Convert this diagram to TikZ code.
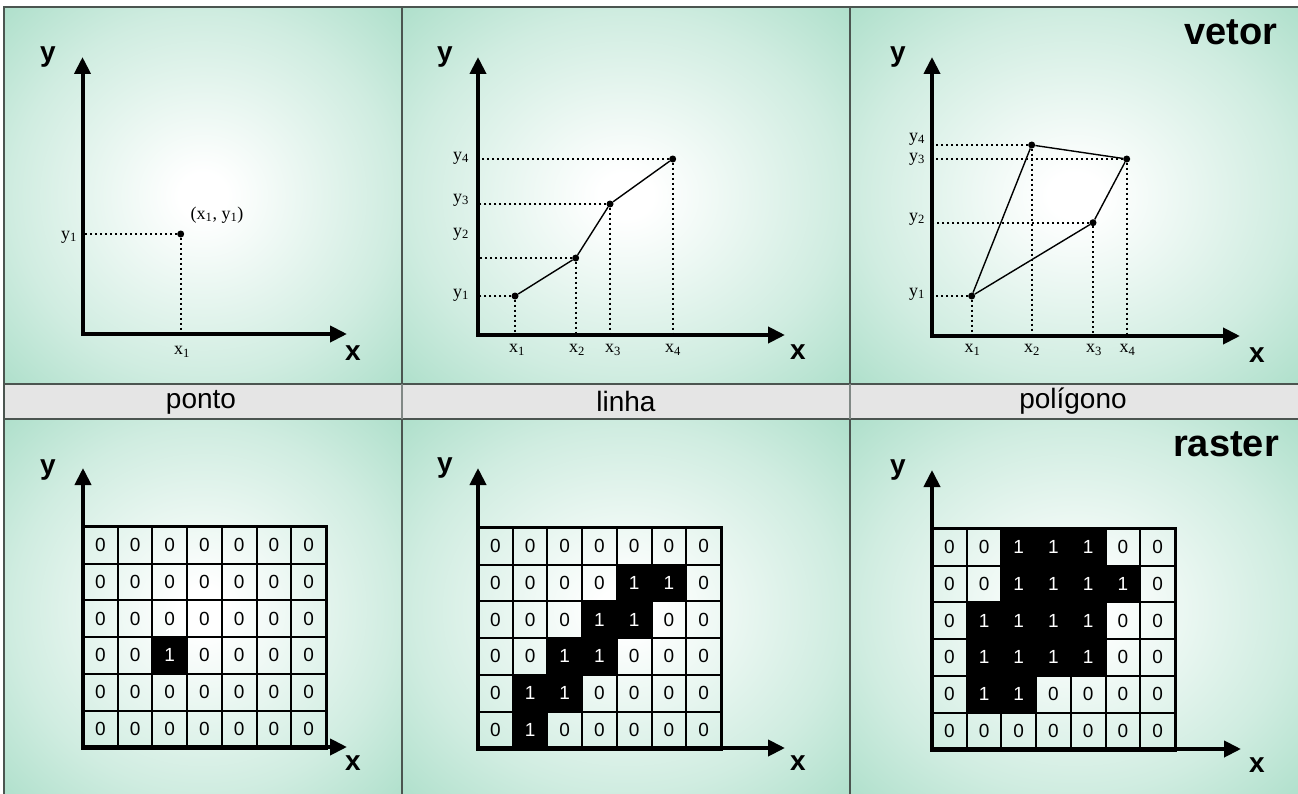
\documentclass[tikz,border=0pt]{standalone}
\usepackage{fontspec}
\setmainfont{Liberation Sans}
\newfontfamily\timesfont{Liberation Serif}
\usetikzlibrary{arrows.meta}
\usetikzlibrary{calc}

\definecolor{mint}{RGB}{176,224,204}
\definecolor{framegray}{RGB}{75,85,80}
\definecolor{stripgray}{RGB}{229,229,229}

% soft glow for the panels
\pgfdeclareradialshading{panelglow}{\pgfpoint{0bp}{0bp}}{%
  color(0bp)=(white); color(3bp)=(white); color(24bp)=(mint!60!white);
  color(35bp)=(mint); color(50bp)=(mint)}

\begin{document}
\begin{tikzpicture}[x=1bp, y=-1bp,
    panel/.style={draw=framegray, line width=1.5bp, shading=panelglow},
    axes/.style={line width=4bp, line join=miter, {Triangle[length=17bp,width=16bp]}-{Triangle[length=17bp,width=16bp]}},
    guide/.style={line width=1.6bp, dash pattern=on 2bp off 3bp},
    segment/.style={line width=1.4bp},
    point/.style={circle, fill=black, inner sep=0pt, minimum size=7bp},
    axislabel/.style={inner sep=0pt, font=\fontsize{28bp}{30bp}\selectfont\bfseries},
    kind/.style={inner sep=0pt, font=\fontsize{38bp}{40bp}\selectfont\bfseries},
    caption/.style={inner sep=0pt, anchor=base, font=\fontsize{28bp}{30bp}\selectfont},
    coordlabel/.style={inner sep=0pt, font=\fontsize{18bp}{20bp}\selectfont\timesfont},
    cellbox/.style={draw=black, line width=2bp, inner sep=0pt, minimum width=34.7bp, minimum height=36.7bp, font=\fontsize{19bp}{20bp}\selectfont},
    cell0/.style={cellbox},
    cell1/.style={cellbox, fill=black, text=white},
    gridframe/.style={draw=black, line width=3bp}]

  \useasboundingbox (0,0) rectangle (1298,794);

  % Panel backgrounds
  \foreach \px/\qx in {4/402, 402/850, 850/1300} {
    \shadedraw[panel] (\px,7) rectangle (\qx,384);
    \shadedraw[panel] (\px,419) rectangle (\qx,800);
  }

  % Caption strip
  \filldraw[fill=stripgray, draw=framegray, line width=1.5bp] (4,384) rectangle (1300,419);
  \draw[framegray!70, line width=1.2bp] (402,384) -- (402,419) (850,384) -- (850,419);
  \node[caption] (cap1) at (201,408) {ponto};
  \node[caption] (cap2) at (626,411) {linha};
  \node[caption] (cap3) at (1073,408) {polígono};

  % Titles
  \node[kind] (vetor) at (1231,32) {vetor};
  \node[kind] (raster) at (1226,444) {raster};

  % ---- ponto (vector) ----
  \coordinate (o1) at (82.5,334);
  \coordinate (ty1) at (82.5,57);
  \coordinate (tx1) at (347,334);
  \node[point] (p1) at (180.7,234) {};
  \draw[guide] (p1) -- (p1 -| o1);
  \draw[guide] (p1) -- (p1 |- o1);
  \draw[axes] (ty1) -- (o1) -- (tx1);
  \node[coordlabel] (px1) at (182,352) {x\textsubscript{1}};
  \node[coordlabel] (py1) at (69,237) {y\textsubscript{1}};
  \node[coordlabel] (pxy) at (217,215) {(x\textsubscript{1}, y\textsubscript{1})};
  \node[axislabel] (py) at (48,57) {y};
  \node[axislabel] (px) at (353,353) {x};

  % ---- linha (vector) ----
  \coordinate (o2) at (478,335);
  \coordinate (ty2) at (478,57);
  \coordinate (tx2) at (785,335);
  \foreach \n/\qx/\qy in {1/515/296, 2/575.7/258, 3/610/204, 4/672.7/159} {
    \node[point] (l\n) at (\qx,\qy) {};
    \draw[guide] (l\n) -- (l\n -| o2);
    \draw[guide] (l\n) -- (l\n |- o2);
  }
  \draw[segment] (l1) -- (l2) -- (l3) -- (l4);
  \draw[axes] (ty2) -- (o2) -- (tx2);
  \foreach \n/\lx in {1/517, 2/577, 3/613, 4/673}
    \node[coordlabel] (lx\n) at (\lx,350) {x\textsubscript{\n}};
  \foreach \n/\ly in {1/295, 2/234, 3/200, 4/158}
    \node[coordlabel] (ly\n) at (461,\ly) {y\textsubscript{\n}};
  \node[axislabel] (ly) at (445,57) {y};
  \node[axislabel] (lx) at (798,352) {x};

  % ---- poligono (vector) ----
  \coordinate (o3) at (932,336);
  \coordinate (ty3) at (932,57);
  \coordinate (tx3) at (1240,336);
  \foreach \n/\qx/\qy in {1/971.7/296, 2/1031.7/145, 3/1093/222.7, 4/1126.7/159} {
    \node[point] (g\n) at (\qx,\qy) {};
    \draw[guide] (g\n) -- (g\n -| o3);
    \draw[guide] (g\n) -- (g\n |- o3);
  }
  \draw[segment] (g1) -- (g2) -- (g4) -- (g3) -- (g1);
  \draw[axes] (ty3) -- (o3) -- (tx3);
  \foreach \n/\lx in {1/972.5, 2/1032, 3/1094, 4/1127.5}
    \node[coordlabel] (gx\n) at (\lx,350) {x\textsubscript{\n}};
  \foreach \n/\ly in {1/294, 2/219, 3/159, 4/139}
    \node[coordlabel] (gy\n) at (917,\ly) {y\textsubscript{\n}};
  \node[axislabel] (gy) at (898,57) {y};
  \node[axislabel] (gx) at (1257,355) {x};

  % cell size
  \def\cw{34.7}
  \def\ch{36.7}

  % ---- ponto (raster) ----
  \draw[axes] (83,468) coordinate (ry1) -- (83,747) coordinate (ro1) -- (347,747) coordinate (rx1);
  \def\gx{83} \def\gy{527}
  \foreach \row [count=\r] in {{0,0,0,0,0,0,0},{0,0,0,0,0,0,0},{0,0,0,0,0,0,0},{0,0,1,0,0,0,0},{0,0,0,0,0,0,0},{0,0,0,0,0,0,0}} {
    \foreach \v [count=\c] in \row {
      \node[cell\v] (a\r\c) at ({\gx+(\c-0.5)*\cw}, {\gy+(\r-0.5)*\ch}) {\v};
    }
  }
  \draw[gridframe] (a11.north west) rectangle (a67.south east);
  \node[axislabel] (ay) at (48,470) {y};
  \node[axislabel] (ax) at (353,763) {x};

  % ---- linha (raster) ----
  \draw[axes] (478,468) coordinate (ry2) -- (478,748) coordinate (ro2) -- (785,748) coordinate (rx2);
  \def\gx{478} \def\gy{528}
  \foreach \row [count=\r] in {{0,0,0,0,0,0,0},{0,0,0,0,1,1,0},{0,0,0,1,1,0,0},{0,0,1,1,0,0,0},{0,1,1,0,0,0,0},{0,1,0,0,0,0,0}} {
    \foreach \v [count=\c] in \row {
      \node[cell\v] (b\r\c) at ({\gx+(\c-0.5)*\cw}, {\gy+(\r-0.5)*\ch}) {\v};
    }
  }
  \draw[gridframe] (b11.north west) rectangle (b67.south east);
  \node[axislabel] (by) at (445,468) {y};
  \node[axislabel] (bx) at (798,763) {x};

  % ---- poligono (raster) ----
  \draw[axes] (932,470) coordinate (ry3) -- (932,749) coordinate (ro3) -- (1241,749) coordinate (rx3);
  \def\gx{932} \def\gy{529}
  \foreach \row [count=\r] in {{0,0,1,1,1,0,0},{0,0,1,1,1,1,0},{0,1,1,1,1,0,0},{0,1,1,1,1,0,0},{0,1,1,0,0,0,0},{0,0,0,0,0,0,0}} {
    \foreach \v [count=\c] in \row {
      \node[cell\v] (c\r\c) at ({\gx+(\c-0.5)*\cw}, {\gy+(\r-0.5)*\ch}) {\v};
    }
  }
  \draw[gridframe] (c11.north west) rectangle (c67.south east);
  \node[axislabel] (cy) at (898,470) {y};
  \node[axislabel] (cx) at (1257,765) {x};

\end{tikzpicture}
\end{document}
